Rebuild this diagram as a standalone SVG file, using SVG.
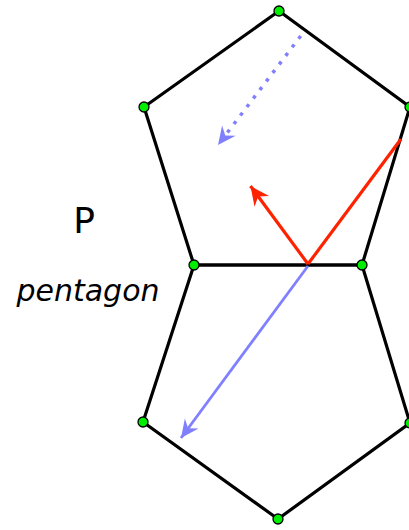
<svg xmlns="http://www.w3.org/2000/svg" width="409" height="530" viewBox="0 0 409 530">
<style>
.edge{fill:none;stroke:#000;stroke-width:3.2;stroke-linejoin:round}
.pt{fill:#00ee00;stroke:#000;stroke-width:1.3}
.red{stroke:#ff2200;stroke-width:3.2;fill:none}
.blue{stroke:#8080ff;stroke-width:2.8;fill:none}
.dot{stroke:#8080ff;stroke-width:3.5;fill:none;stroke-dasharray:3.5 7.2}
.lbl{font-family:"DejaVu Sans",sans-serif;fill:#000}
</style>
<defs>
<marker id="ahRed" viewBox="-20 -10 22 20" refX="0" refY="0" markerWidth="22" markerHeight="20" markerUnits="userSpaceOnUse" orient="auto">
<path d="M0,0 L-19,-9 L-13,0 L-19,9 z" fill="#ff2200"/>
</marker>
<marker id="ahBlue" viewBox="-20 -10 22 20" refX="0" refY="0" markerWidth="22" markerHeight="20" markerUnits="userSpaceOnUse" orient="auto">
<path d="M0,0 L-18,-8.5 L-12,0 L-18,8.5 z" fill="#8080ff"/>
</marker>
</defs>
<g id="top-pentagon">
<polygon class="edge" points="279,11 410,107 362,265 194,265 144,107"/>
</g>
<g id="bottom-pentagon">
<polygon class="edge" points="194,265 362,265 410,423 278,519 143,422"/>
</g>
<g id="connectors">
<line class="dot" x1="300.7" y1="36" x2="218" y2="145" marker-end="url(#ahBlue)"/>
<line class="red" x1="308" y1="264" x2="401" y2="139"/>
<line class="red" x1="308" y1="264" x2="250.5" y2="186" marker-end="url(#ahRed)"/>
<line class="blue" x1="308" y1="266" x2="181" y2="438" marker-end="url(#ahBlue)"/>
</g>
<g id="vertices">
<circle class="pt" cx="279" cy="11" r="5"/>
<circle class="pt" cx="144" cy="107" r="5"/>
<circle class="pt" cx="410" cy="107" r="5"/>
<circle class="pt" cx="194" cy="265" r="5"/>
<circle class="pt" cx="362" cy="265" r="5"/>
<circle class="pt" cx="143" cy="422" r="5"/>
<circle class="pt" cx="410" cy="423" r="5"/>
<circle class="pt" cx="278" cy="519" r="5"/>
</g>
<g id="label-P">
<text class="lbl" x="84" y="233" font-size="36" text-anchor="middle">P</text>
</g>
<g id="label-pentagon">
<text class="lbl" x="88" y="301" font-size="30" font-style="italic" text-anchor="middle">pentagon</text>
</g>
</svg>
